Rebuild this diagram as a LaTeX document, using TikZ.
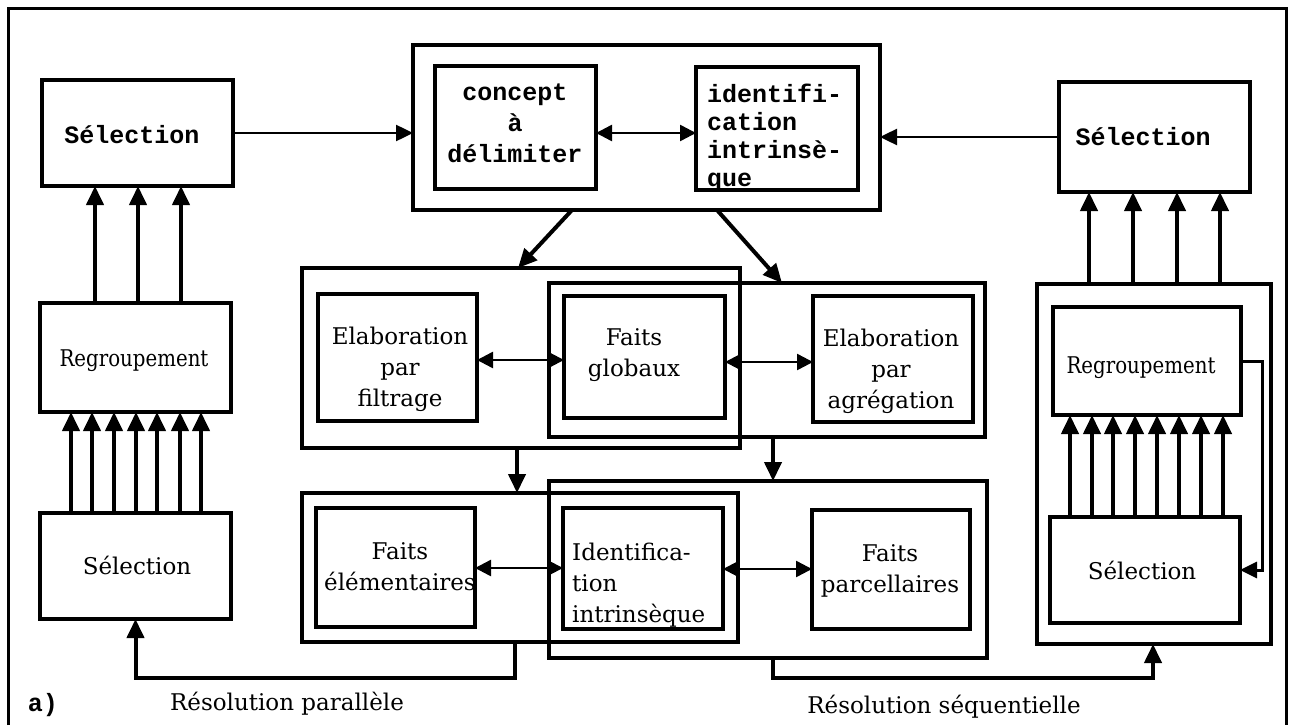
\documentclass[tikz,border=0pt]{standalone}
\usepackage{fontspec}
\setmainfont{DejaVu Serif}
\newfontfamily\twfont{Liberation Mono}[BoldFont={Liberation Mono Bold}]
\newfontfamily\narrowserif{DejaVu Serif}[FakeStretch=0.86]
\usetikzlibrary{arrows.meta}
\tikzset{
  box/.style={draw, line width=3.5pt, inner sep=0pt, outer sep=0pt},
  grp/.style={draw, line width=3.5pt, inner sep=0pt, outer sep=0pt},
  sertxt/.style={font=\fontsize{23}{31}\selectfont, align=center, inner sep=0pt},
  regtxt/.style={font=\narrowserif\fontsize{23}{26}\selectfont, align=center, inner sep=0pt},
  monotxt/.style={font=\twfont\bfseries\fontsize{25}{31}\selectfont, align=center, inner sep=0pt},
  varr/.style={line width=4pt, -{Triangle[length=19pt,width=17pt]}},
  harr/.style={line width=2.5pt, -{Triangle[length=17pt,width=16pt]}},
  darr/.style={line width=2.5pt, {Triangle[length=16pt,width=16pt]}-{Triangle[length=16pt,width=16pt]}},
  conn/.style={line width=4pt, -{Triangle[length=19pt,width=17pt]}},
  fback/.style={line width=3pt, -{Triangle[length=17pt,width=16pt]}},
}
\begin{document}
\begin{tikzpicture}[x=1pt,y=-1pt]
\useasboundingbox (0,0) rectangle (1300,725);
% outer frame
\draw[line width=3pt] (8,725) -- (8,9) -- (1286,9) -- (1286,725);

% ---------- left column
\node[box, minimum width=191pt, minimum height=106pt] (selL1) at (137.5,133) {};
\node[box, minimum width=191pt, minimum height=109pt] (regL) at (135.5,357.5) {};
\node[box, minimum width=191pt, minimum height=106pt] (selL2) at (135.5,566) {};
\node[monotxt] (tSelL1) at (132,135) {Sélection};
\node[regtxt] (tRegL) at (134,361) {Regroupement};
\node[sertxt] (tSelL2) at (137,565) {Sélection};

% ---------- top centre
\node[grp, minimum width=467pt, minimum height=165pt] (cOut) at (646.5,127.5) {};
\node[box, minimum width=161pt, minimum height=123pt] (concept) at (515.5,127.5) {};
\node[box, minimum width=162pt, minimum height=123pt] (ident) at (777,128.5) {};
\node[monotxt] (tConcept) at (515,123) {concept\\à\\délimiter};
\node[monotxt, align=left, anchor=west, font=\twfont\bfseries\fontsize{25}{28}\selectfont] (tIdent) at (707,138) {identifi-\\cation\\intrinsè-\\que};

% ---------- right top
\node[box, minimum width=191pt, minimum height=110pt] (selR1) at (1154.5,137) {};
\node[monotxt] (tSelR1) at (1143,137) {Sélection};

% ---------- middle row groups
\node[grp, minimum width=438pt, minimum height=180pt] (grpA) at (521,358) {};
\node[grp, minimum width=436pt, minimum height=154pt] (grpB) at (767,360) {};
\node[box, minimum width=159pt, minimum height=127pt] (filt) at (397.5,357.5) {};
\node[box, minimum width=161pt, minimum height=122pt] (glob) at (644.5,357) {};
\node[box, minimum width=160pt, minimum height=126pt] (agr) at (893,359) {};
\node[sertxt] (tFilt) at (400,369) {Elaboration\\par\\filtrage};
\node[sertxt] (tGlob) at (634,355) {Faits\\globaux};
\node[sertxt] (tAgr) at (891,371) {Elaboration\\par\\agrégation};

% ---------- bottom row groups
\node[grp, minimum width=436pt, minimum height=149pt] (grpC) at (520,567.5) {};
\node[grp, minimum width=438pt, minimum height=177pt] (grpD) at (768,569.5) {};
\node[box, minimum width=159pt, minimum height=119pt] (elem) at (395.5,567.5) {};
\node[box, minimum width=160pt, minimum height=121pt] (idb) at (643,568.5) {};
\node[box, minimum width=158pt, minimum height=119pt] (parc) at (891,569.5) {};
\node[sertxt] (tElem) at (400,567) {Faits\\élémentaires};
\node[sertxt, align=left, anchor=west] (tIdb) at (572,585) {Identifica-\\tion\\intrinsèque};
\node[sertxt] (tParc) at (890,571) {Faits\\parcellaires};

% ---------- right column
\node[grp, minimum width=234pt, minimum height=360pt] (grpR) at (1154,464) {};
\node[box, minimum width=188pt, minimum height=108pt] (regR) at (1147,361) {};
\node[box, minimum width=190pt, minimum height=106pt] (selR2) at (1145,570) {};
\node[regtxt] (tRegR) at (1141,368) {Regroupement};
\node[sertxt] (tSelR2) at (1142,570) {Sélection};

% ---------- bottom labels
\node[monotxt] (ta) at (43,705) {a)};
\node[sertxt] (tPar) at (287,704) {Résolution parallèle};
\node[sertxt] (tSeq) at (944,707) {Résolution séquentielle};

% ---------- connectors
\foreach \x in {95,138,181}
  \draw[varr] (regL.north -| \x,0) -- (selL1.south -| \x,0);
\foreach \x in {71,92,114,136,157,180,201}
  \draw[varr] (selL2.north -| \x,0) -- (regL.south -| \x,0);
\draw[harr] (selL1.east) -- (selL1.east -| cOut.west);
\draw[harr] (selR1.west) -- (selR1.west -| cOut.east);
\draw[darr] (concept.east |- 0,133) -- (ident.west |- 0,133);
\draw[varr] (cOut.south -| 572,0) -- (grpA.north -| 518,0);
\draw[varr] (cOut.south -| 717,0) -- (grpB.north -| 782,0);
\draw[darr] (filt.east |- 0,360) -- (glob.west |- 0,360);
\draw[darr] (glob.east |- 0,362) -- (agr.west |- 0,362);
\draw[varr] (grpA.south -| 517,0) -- (grpC.north -| 517,0);
\draw[varr] (grpB.south -| 773,0) -- (grpD.north -| 773,0);
\draw[darr] (elem.east |- 0,568) -- (idb.west |- 0,568);
\draw[darr] (idb.east |- 0,569) -- (parc.west |- 0,569);
\draw[conn] (grpC.south -| 515,0) -- (515,678) -| (selL2.south);
\draw[conn] (grpD.south -| 773,0) -- (773,678) -| (grpR.south -| 1153,0);
\foreach \x in {1089,1133,1177,1220}
  \draw[varr] (grpR.north -| \x,0) -- (selR1.south -| \x,0);
\foreach \x in {1070,1092,1113,1135,1157,1179,1201,1223}
  \draw[varr] (selR2.north -| \x,0) -- (regR.south -| \x,0);
\draw[fback] (regR.east) -- ++(21,0) |- (selR2.east);
\end{tikzpicture}
\end{document}
